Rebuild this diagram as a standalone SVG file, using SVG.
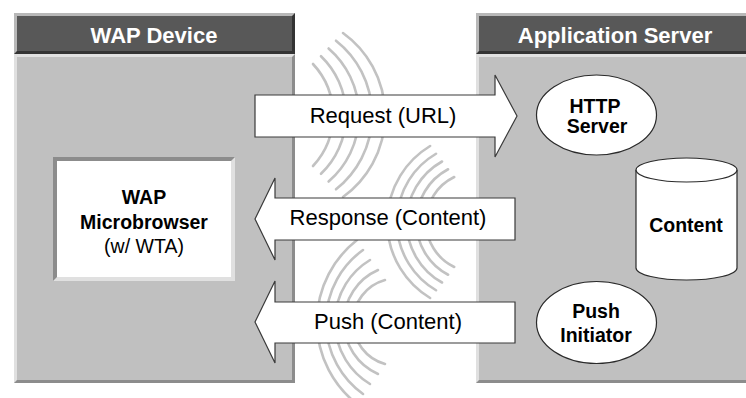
<svg xmlns="http://www.w3.org/2000/svg" width="746" height="398" viewBox="0 0 746 398">
  <style>
    .hl { fill: #e0e0e0; }
    .sh { fill: #8c8c8c; }
    .body { fill: #c0c0c0; }
    .hdr-hl { fill: #b8b8b8; }
    .hdr-sh { fill: #333333; }
    .hdr { fill: #585858; }
    .title { font-family: "Liberation Sans", Arial, sans-serif; font-weight: bold; font-size: 22px; fill: #ffffff; text-anchor: middle; }
    .wave { fill: none; stroke: #c2c2c2; stroke-width: 2.6; stroke-linecap: round; }
    .arrow { fill: #ffffff; stroke: #3a3a3a; stroke-width: 1.2; stroke-linejoin: miter; }
    .alabel { font-family: "Liberation Sans", Arial, sans-serif; font-size: 22px; fill: #000000; text-anchor: middle; }
    .shape { fill: #ffffff; stroke: #2a2a2a; stroke-width: 1.2; }
    .bold { font-family: "Liberation Sans", Arial, sans-serif; font-weight: bold; font-size: 19.5px; fill: #000000; text-anchor: middle; }
    .plain { font-family: "Liberation Sans", Arial, sans-serif; font-size: 19.5px; fill: #000000; text-anchor: middle; }
  </style>

  <rect width="746" height="398" fill="#ffffff"/>

  <!-- radio waves between the two sides -->
  <g id="waves">
    <!-- upper group, opening to the right -->
    <path class="wave" d="M313,64 A75,75 0 0 1 313,166"/>
    <path class="wave" d="M321,56.25 A81.5,81.5 0 0 1 321,173.75"/>
    <path class="wave" d="M328.6,48.5 A88,88 0 0 1 328.6,181.5"/>
    <path class="wave" d="M336,40.75 A94.5,94.5 0 0 1 336,189.25"/>
    <path class="wave" d="M343,33 A101,101 0 0 1 343,197"/>
    <!-- middle group, opening to the left -->
    <path class="wave" d="M454.2,177 A50,50 0 0 0 454.2,267"/>
    <path class="wave" d="M448.1,169.25 A59.7,59.7 0 0 0 448.1,274.75"/>
    <path class="wave" d="M442,161.5 A69.4,69.4 0 0 0 442,282.5"/>
    <path class="wave" d="M436,153.75 A79.1,79.1 0 0 0 436,290.25"/>
    <path class="wave" d="M430.1,146 A88.8,88.8 0 0 0 430.1,298"/>
    <!-- lower group, opening to the left -->
    <path class="wave" d="M385,280 A43.6,43.6 0 0 0 385,364"/>
    <path class="wave" d="M378,270 A56.8,56.8 0 0 0 378,374"/>
    <path class="wave" d="M370,260 A72.4,72.4 0 0 0 370,384"/>
    <path class="wave" d="M363,250 A88.6,88.6 0 0 0 363,394"/>
    <path class="wave" d="M357,240 A104,104 0 0 0 357,404"/>
  </g>

  <!-- WAP Device panel -->
  <g id="wap-device">
    <rect class="hdr-sh" x="14" y="13" width="281" height="41"/>
    <polygon class="hdr-hl" points="14,13 295,13 292,16 17,16 17,51 14,54"/>
    <rect class="hdr" x="17" y="16" width="275" height="35"/>
    <text class="title" x="154" y="43">WAP Device</text>
    <rect class="sh" x="14" y="54" width="281" height="329"/>
    <polygon class="hl" points="14,54 295,54 292,57 17,57 17,380 14,383"/>
    <rect class="body" x="17" y="57" width="275" height="323"/>
  </g>

  <!-- Application Server panel -->
  <g id="application-server">
    <rect class="hdr-sh" x="476" y="13" width="275" height="41"/>
    <polygon class="hdr-hl" points="476,13 751,13 748,16 479,16 479,51 476,54"/>
    <rect class="hdr" x="479" y="16" width="270" height="35"/>
    <text class="title" x="615" y="43">Application Server</text>
    <rect class="sh" x="476" y="54" width="275" height="329"/>
    <polygon class="hl" points="476,54 751,54 748,57 479,57 479,380 476,383"/>
    <rect class="body" x="479" y="57" width="270" height="323"/>
  </g>

  <!-- Microbrowser box, inset -->
  <g id="microbrowser">
    <rect class="hl" x="53" y="157" width="182" height="124"/>
    <polygon class="sh" points="53,157 235,157 231,161 57,161 57,277 53,281"/>
    <rect fill="#ffffff" x="57" y="161" width="174" height="116"/>
    <text class="bold" x="144" y="204">WAP</text>
    <text class="bold" x="144" y="229">Microbrowser</text>
    <text class="plain" x="144" y="253">(w/ WTA)</text>
  </g>

  <!-- server side components -->
  <g id="http-server">
    <ellipse class="shape" cx="596.5" cy="115" rx="60" ry="40"/>
    <text class="bold" x="595" y="113">HTTP</text>
    <text class="bold" x="597" y="133">Server</text>
  </g>

  <g id="content-store">
    <path class="shape" d="M636,170 V268 A50.5,12 0 0 0 737,268 V170"/>
    <ellipse class="shape" cx="686.5" cy="170" rx="50.5" ry="12"/>
    <text class="bold" x="686" y="232">Content</text>
  </g>

  <g id="push-initiator">
    <ellipse class="shape" cx="596.5" cy="322.5" rx="60" ry="41"/>
    <text class="bold" x="596" y="318">Push</text>
    <text class="bold" x="596" y="342">Initiator</text>
  </g>

  <!-- block arrows between device and server -->
  <g id="connectors">
    <g id="request">
      <path class="arrow" d="M255,95 H495 V75 L517,116 L495,157 V137 H255 Z"/>
      <text class="alabel" x="383" y="123">Request (URL)</text>
    </g>
    <g id="response">
      <path class="arrow" d="M515,198 H275 V178 L255,219 L275,260 V240 H515 Z"/>
      <text class="alabel" x="388" y="225">Response (Content)</text>
    </g>
    <g id="push">
      <path class="arrow" d="M515,302 H275 V281 L255,322 L275,363 V343 H515 Z"/>
      <text class="alabel" x="388" y="329">Push (Content)</text>
    </g>
  </g>
</svg>
